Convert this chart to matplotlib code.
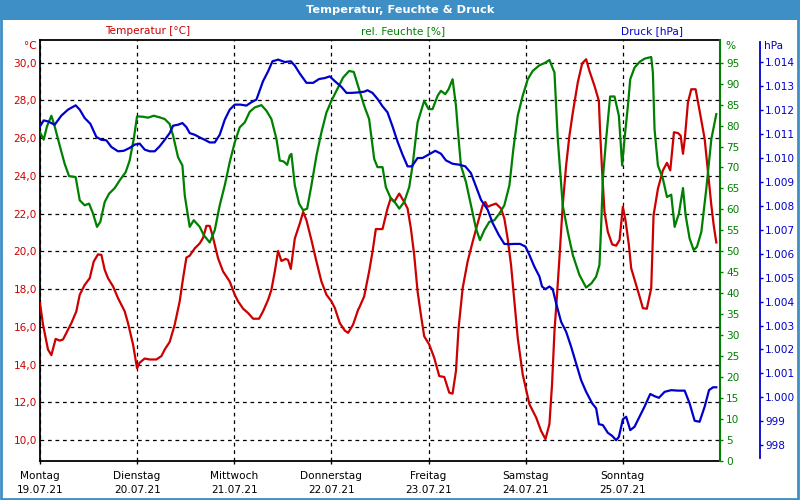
import matplotlib
matplotlib.use("Agg")
import matplotlib.pyplot as plt
from matplotlib.patches import Rectangle
from matplotlib.ticker import FuncFormatter

plt.rcParams['font.family'] = ['DejaVu Sans']

# ---------------- data ----------------
day_names = ["Montag", "Dienstag", "Mittwoch", "Donnerstag", "Freitag", "Samstag", "Sonntag"]
dates = ["19.07.21", "20.07.21", "21.07.21", "22.07.21", "23.07.21", "24.07.21", "25.07.21"]

temp_day = [0, 0.031, 0.082, 0.117, 0.161, 0.203, 0.237, 0.323, 0.374, 0.409, 0.460, 0.512, 0.553, 0.597, 0.632,
            0.666, 0.700, 0.752, 0.803, 0.872, 0.906, 0.958, 0.999, 1.026, 1.078, 1.129, 1.198, 1.250, 1.284, 1.335,
            1.387, 1.438, 1.473, 1.507, 1.541, 1.593, 1.644, 1.679, 1.713, 1.747, 1.775, 1.833, 1.885, 1.953, 2.005,
            2.039, 2.091, 2.142, 2.194, 2.255, 2.296, 2.348, 2.382, 2.417, 2.451, 2.485, 2.530, 2.554, 2.582, 2.623,
            2.674, 2.709, 2.743, 2.794, 2.846, 2.897, 2.949, 3.000, 3.035, 3.086, 3.138, 3.172, 3.223, 3.275, 3.285,
            3.337, 3.388, 3.423, 3.457, 3.526, 3.577, 3.612, 3.646, 3.698, 3.749, 3.784, 3.818, 3.852, 3.887, 3.921,
            3.955, 4.007, 4.058, 4.110, 4.162, 4.213, 4.247, 4.282, 4.309, 4.351, 4.402, 4.454, 4.505, 4.557, 4.584,
            4.608, 4.643, 4.694, 4.746, 4.780, 4.814, 4.849, 4.883, 4.918, 4.969, 5.038, 5.107, 5.158, 5.203, 5.244,
            5.271, 5.296, 5.320, 5.347, 5.381, 5.416, 5.450, 5.485, 5.536, 5.581, 5.622, 5.656, 5.708, 5.753, 5.766,
            5.787, 5.811, 5.845, 5.890, 5.931, 5.966, 6.000, 6.027, 6.062, 6.086, 6.137, 6.172, 6.206, 6.247, 6.292,
            6.316, 6.361, 6.412, 6.454, 6.488, 6.526, 6.567, 6.595, 6.619, 6.636, 6.670, 6.704, 6.749, 6.790, 6.842,
            6.876, 6.911, 6.935, 6.962]
temp_val = [17.26, 16.12, 14.80, 14.50, 15.36, 15.27, 15.33, 16.20, 16.82, 17.70, 18.22, 18.58, 19.46, 19.84, 19.81,
            19.02, 18.58, 18.14, 17.52, 16.82, 16.20, 15.06, 13.80, 14.10, 14.32, 14.27, 14.27, 14.45, 14.80, 15.20,
            16.12, 17.35, 18.58, 19.67, 19.77, 20.16, 20.42, 20.72, 21.35, 21.35, 20.86, 19.63, 18.93, 18.40, 17.70,
            17.35, 16.96, 16.73, 16.43, 16.43, 16.82, 17.43, 17.96, 18.93, 20.02, 19.49, 19.60, 19.54, 19.07, 20.68,
            21.47, 22.09, 21.65, 20.60, 19.46, 18.40, 17.70, 17.35, 17.00, 16.20, 15.80, 15.68, 16.12, 16.91, 17.00,
            17.61, 18.93, 19.98, 21.18, 21.18, 22.27, 22.83, 22.62, 23.06, 22.62, 22.27, 21.21, 19.81, 17.87, 16.64,
            15.50, 15.06, 14.36, 13.39, 13.34, 12.51, 12.46, 13.66, 15.94, 18.05, 19.46, 20.51, 21.48, 22.44, 22.62,
            22.36, 22.44, 22.53, 22.27, 21.74, 20.68, 19.28, 17.35, 15.41, 13.48, 11.90, 11.20, 10.49, 10.05, 10.84,
            12.95, 15.76, 17.52, 19.63, 22.44, 24.55, 26.13, 27.36, 28.95, 29.96, 30.18, 29.56, 28.77, 27.98, 26.31,
            24.20, 22.09, 21.04, 20.37, 20.30, 20.60, 22.36, 21.65, 20.33, 19.10, 18.22, 17.61, 16.99, 16.96, 18.05,
            21.91, 23.32, 24.29, 24.69, 24.29, 26.31, 26.27, 26.13, 25.17, 25.87, 27.89, 28.59, 28.59, 27.45, 25.96,
            24.20, 22.44, 21.39, 20.47]

hum_day = [0, 0.038, 0.072, 0.117, 0.151, 0.203, 0.254, 0.299, 0.367, 0.409, 0.460, 0.505, 0.546, 0.587, 0.621,
           0.666, 0.711, 0.769, 0.820, 0.882, 0.923, 0.965, 0.999, 1.061, 1.112, 1.171, 1.232, 1.284, 1.335, 1.370,
           1.421, 1.466, 1.490, 1.541, 1.583, 1.644, 1.686, 1.747, 1.799, 1.850, 1.902, 1.953, 2.005, 2.056, 2.108,
           2.159, 2.211, 2.279, 2.331, 2.382, 2.434, 2.468, 2.509, 2.544, 2.571, 2.588, 2.623, 2.667, 2.709, 2.750,
           2.794, 2.846, 2.897, 2.949, 3.000, 3.052, 3.120, 3.182, 3.230, 3.285, 3.337, 3.388, 3.440, 3.474, 3.526,
           3.560, 3.612, 3.646, 3.698, 3.749, 3.801, 3.835, 3.887, 3.955, 4.000, 4.041, 4.093, 4.127, 4.172, 4.206,
           4.247, 4.282, 4.309, 4.333, 4.385, 4.436, 4.488, 4.529, 4.574, 4.625, 4.677, 4.729, 4.780, 4.832, 4.873,
           4.918, 4.969, 5.021, 5.072, 5.141, 5.203, 5.244, 5.296, 5.330, 5.381, 5.433, 5.485, 5.553, 5.622, 5.677,
           5.725, 5.759, 5.777, 5.794, 5.828, 5.869, 5.914, 5.959, 5.993, 6.017, 6.052, 6.076, 6.120, 6.172, 6.223,
           6.292, 6.309, 6.326, 6.361, 6.412, 6.454, 6.498, 6.533, 6.577, 6.619, 6.646, 6.687, 6.729, 6.763, 6.808,
           6.859, 6.911, 6.962]
hum_val = [78.39, 76.65, 79.81, 82.34, 79.81, 75.22, 70.87, 67.94, 67.71, 62.17, 60.98, 61.38, 59.00, 55.84, 57.03,
           61.77, 63.75, 65.09, 66.91, 68.89, 71.66, 76.80, 82.18, 82.10, 81.87, 82.34, 81.95, 81.55, 80.36, 77.59,
           72.45, 70.47, 63.35, 55.84, 57.42, 55.84, 53.86, 52.12, 55.05, 60.98, 65.73, 71.27, 76.01, 79.57, 80.76,
           83.29, 84.32, 84.87, 83.53, 81.55, 76.80, 71.66, 71.42, 70.63, 72.85, 73.24, 65.73, 61.38, 59.79, 60.19,
           65.73, 72.85, 78.39, 83.13, 85.90, 88.28, 91.44, 93.02, 92.78, 88.67, 84.72, 81.55, 72.06, 70.08, 70.08,
           65.33, 62.56, 61.93, 60.19, 61.77, 65.33, 70.47, 80.76, 85.90, 83.92, 83.92, 87.09, 88.28, 87.48, 88.67,
           91.04, 84.72, 76.80, 70.47, 66.52, 60.98, 55.44, 52.67, 55.05, 57.03, 57.42, 59.00, 60.98, 65.73, 74.43,
           82.34, 87.09, 91.04, 93.02, 94.37, 95.00, 95.63, 92.63, 76.80, 60.98, 54.65, 49.11, 44.37, 41.36, 42.39,
           43.97, 46.74, 56.23, 67.31, 76.80, 86.93, 86.93, 82.34, 70.47, 76.80, 84.72, 91.04, 93.81, 95.16, 95.95,
           96.34, 92.63, 79.18, 70.47, 67.31, 62.96, 63.51, 55.84, 59.00, 65.09, 58.61, 53.07, 50.30, 51.09, 54.65,
           64.94, 76.80, 82.73]

press_day = [0, 0.038, 0.082, 0.151, 0.220, 0.288, 0.367, 0.409, 0.460, 0.518, 0.580, 0.632, 0.683, 0.735, 0.803,
             0.862, 0.923, 0.975, 1.026, 1.078, 1.129, 1.181, 1.232, 1.284, 1.335, 1.370, 1.421, 1.466, 1.507, 1.541,
             1.593, 1.644, 1.696, 1.747, 1.799, 1.850, 1.902, 1.953, 2.005, 2.063, 2.125, 2.176, 2.228, 2.296, 2.348,
             2.393, 2.451, 2.520, 2.582, 2.623, 2.674, 2.743, 2.812, 2.873, 2.932, 2.983, 3.035, 3.103, 3.155, 3.206,
             3.275, 3.337, 3.371, 3.423, 3.474, 3.526, 3.577, 3.629, 3.680, 3.732, 3.784, 3.828, 3.887, 3.938, 4.000,
             4.069, 4.127, 4.179, 4.247, 4.316, 4.378, 4.436, 4.488, 4.540, 4.608, 4.660, 4.722, 4.780, 4.832, 4.883,
             4.942, 4.997, 5.038, 5.089, 5.141, 5.168, 5.203, 5.244, 5.278, 5.313, 5.364, 5.416, 5.467, 5.519, 5.570,
             5.622, 5.684, 5.725, 5.753, 5.794, 5.845, 5.890, 5.931, 5.959, 6.000, 6.034, 6.076, 6.120, 6.172, 6.223,
             6.282, 6.326, 6.371, 6.430, 6.498, 6.567, 6.636, 6.687, 6.739, 6.790, 6.842, 6.887, 6.928, 6.962]
press_val = [1011.32, 1011.57, 1011.53, 1011.39, 1011.77, 1012.02, 1012.20, 1012.02, 1011.67, 1011.43, 1010.88,
             1010.76, 1010.74, 1010.46, 1010.28, 1010.30, 1010.42, 1010.56, 1010.60, 1010.35, 1010.28, 1010.28,
             1010.49, 1010.76, 1011.04, 1011.35, 1011.39, 1011.46, 1011.29, 1011.04, 1010.97, 1010.86, 1010.76,
             1010.65, 1010.65, 1010.97, 1011.60, 1012.02, 1012.23, 1012.23, 1012.19, 1012.33, 1012.44, 1013.21,
             1013.62, 1014.04, 1014.11, 1014.01, 1014.04, 1013.86, 1013.53, 1013.14, 1013.14, 1013.30, 1013.34,
             1013.41, 1013.21, 1012.97, 1012.72, 1012.72, 1012.74, 1012.77, 1012.83, 1012.72, 1012.47, 1012.16,
             1011.91, 1011.32, 1010.69, 1010.14, 1009.65, 1009.65, 1010.00, 1010.00, 1010.14, 1010.30, 1010.18,
             1009.90, 1009.76, 1009.72, 1009.65, 1009.37, 1008.81, 1008.25, 1007.84, 1007.28, 1006.79, 1006.41,
             1006.40, 1006.41, 1006.41, 1006.30, 1005.95, 1005.46, 1005.05, 1004.63, 1004.52, 1004.63, 1004.52,
             1003.93, 1003.16, 1002.74, 1002.12, 1001.42, 1000.72, 1000.23, 999.75, 999.54, 998.88, 998.84, 998.52,
             998.39, 998.21, 998.35, 999.08, 999.19, 998.63, 998.77, 999.19, 999.61, 1000.14, 1000.05, 999.98,
             1000.23, 1000.30, 1000.28, 1000.28, 999.75, 999.02, 998.98, 999.61, 1000.30, 1000.42, 1000.42]

temp_ticks = [10, 12, 14, 16, 18, 20, 22, 24, 26, 28, 30]
hum_ticks = list(range(0, 100, 5))
press_ticks = list(range(998, 1015))

# ---------------- style ----------------
RED = "#cc0000"
GREEN = "#008000"
BLUE = "#0000cc"
BAR = "#3d8fc6"
FS = 7.6
PT = 72 / 100  # points per pixel at dpi 100

fig = plt.figure(figsize=(8, 5), dpi=100)
fig.patch.set_facecolor("white")

# title bar and window border
fig.patches.append(Rectangle((0, 1 - 20 / 500), 1, 20 / 500, transform=fig.transFigure,
                             facecolor=BAR, edgecolor="none", zorder=0))
fig.patches.append(Rectangle((0.001, 0.002), 0.997, 0.996, transform=fig.transFigure,
                             facecolor="none", edgecolor=BAR, linewidth=2, zorder=0))
fig.text(0.5, 1 - 10 / 500, "Temperatur, Feuchte & Druck", color="white", fontsize=8.2,
         fontweight="bold", ha="center", va="center")

ax = fig.add_axes([40 / 800, 1 - 461 / 500, 680 / 800, 421 / 500])
ax2 = ax.twinx()
ax3 = ax.twinx()

# temperature axis
ax.plot(temp_day, temp_val, color=RED, lw=1.6, zorder=3)
ax.set_xlim(0, 7)
ax.set_ylim(8.89, 31.2)
ax.set_yticks(temp_ticks)
ax.yaxis.set_major_formatter(FuncFormatter(lambda v, p: f"{v:.1f}".replace(".", ",")))
ax.tick_params(axis="y", length=0, pad=3 * PT, labelsize=FS, labelcolor=RED)
ax.set_xticks(range(7))
ax.set_xticklabels([f"{d}\n{t}" for d, t in zip(day_names, dates)], fontsize=FS, linespacing=1.5)
ax.tick_params(axis="x", length=3 * PT, width=1, pad=7 * PT, direction="out")
ax.grid(True, color="black", linestyle=(0, (3, 3)), linewidth=0.9)
ax.set_axisbelow(True)
for s in ["left", "top", "bottom"]:
    ax.spines[s].set_color("black")
    ax.spines[s].set_linewidth(1.3)
ax.spines["right"].set_visible(False)

# humidity axis
ax2.plot(hum_day, hum_val, color=GREEN, lw=1.6, zorder=3)
ax2.set_ylim(0, 100.4)
ax2.set_yticks(hum_ticks)
ax2.tick_params(axis="y", length=3 * PT, width=1, pad=3 * PT, labelsize=FS, colors=GREEN)
ax2.spines["right"].set_color(GREEN)
ax2.spines["right"].set_linewidth(1.5)
for s in ["left", "top", "bottom"]:
    ax2.spines[s].set_visible(False)

# pressure axis
ax3.plot(press_day, press_val, color=BLUE, lw=1.6, zorder=3)
ax3.set_ylim(997.34, 1014.93)
ax3.set_yticks(press_ticks)
ax3.yaxis.set_major_formatter(FuncFormatter(lambda v, p: f"{int(round(v)):,}".replace(",", ".")))
ax3.tick_params(axis="y", length=3 * PT, width=1, pad=2 * PT, labelsize=FS, colors=BLUE)
ax3.spines["right"].set_position(("outward", 40 * PT))
ax3.spines["right"].set_color(BLUE)
ax3.spines["right"].set_linewidth(1.3)
ax3.spines["right"].set_bounds(997.45, 1014.85)
for s in ["left", "top", "bottom"]:
    ax3.spines[s].set_visible(False)

# header labels
fig.text(148 / 800, 1 - 31 / 500, "Temperatur [°C]", color=RED, fontsize=FS, ha="center", va="center")
fig.text(403 / 800, 1 - 31 / 500, "rel. Feuchte [%]", color=GREEN, fontsize=FS, ha="center", va="center")
fig.text(652 / 800, 1 - 31 / 500, "Druck [hPa]", color=BLUE, fontsize=FS, ha="center", va="center")
fig.text(37 / 800, 1 - 46 / 500, "°C", color=RED, fontsize=FS, ha="right", va="center")
fig.text(725 / 800, 1 - 46 / 500, "%", color=GREEN, fontsize=FS, ha="left", va="center")
fig.text(764 / 800, 1 - 46 / 500, "hPa", color=BLUE, fontsize=FS, ha="left", va="center")

fig.savefig("out.png", dpi=100)
